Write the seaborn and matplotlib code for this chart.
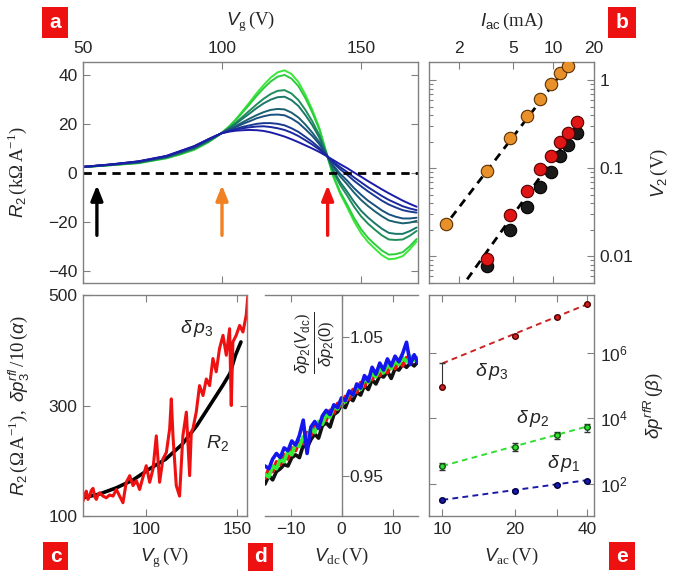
import numpy as np
import pandas as pd
import seaborn as sns
import matplotlib.pyplot as plt
from matplotlib.patches import Rectangle
from matplotlib.ticker import FixedLocator, FixedFormatter, NullLocator, LogLocator, NullFormatter

sns.set_style('white')
plt.rcParams['font.family'] = ['Liberation Sans', 'DejaVu Sans']
plt.rcParams['mathtext.fontset'] = 'custom'
plt.rcParams['mathtext.rm'] = 'Liberation Serif'
plt.rcParams['mathtext.it'] = 'Liberation Sans:italic'
plt.rcParams['mathtext.sf'] = 'Liberation Sans'
plt.rcParams['mathtext.bf'] = 'Liberation Sans:bold'

# ---- panel a: R2 vs Vg for increasing drive (1 = blue ... 9 = green)
vg = [50, 60, 70, 80, 85, 90, 95, 97.5, 100, 102.5, 105, 107.5, 110, 112.5, 115, 117.5, 120, 122.5, 125,
      127.5, 130, 132.5, 135, 137.5, 140, 142.5, 145, 147.5, 150, 152.5, 155, 157.5, 160, 162.5, 165, 167.5, 170]
r2_1 = [2.5, 3.5, 4.8, 7.0, 9.0, 11.0, 13.8, 15.1, 16.3, 16.9, 17.3, 17.5, 17.6, 17.5, 17.2, 16.6, 15.8, 14.9, 13.8,
        12.6, 11.3, 10.0, 8.6, 7.0, 5.3, 3.6, 2.0, 0.2, -1.5, -3.3, -5.0, -6.7, -8.3, -9.8, -11.3, -12.6, -13.8]
r2_2 = [2.5, 3.5, 4.7, 6.9, 8.9, 10.9, 13.7, 15.0, 16.3, 17.1, 17.8, 18.3, 18.7, 19.0, 19.1, 18.8, 18.3, 17.6, 16.5,
        15.1, 13.4, 11.6, 9.6, 7.2, 4.6, 2.4, 0.4, -1.8, -3.8, -5.8, -7.6, -9.4, -11.0, -12.3, -13.6, -14.5, -15.2]
r2_3 = [2.5, 3.4, 4.7, 6.8, 8.8, 10.7, 13.6, 15.0, 16.3, 17.3, 18.1, 18.9, 19.5, 20.1, 20.4, 20.4, 20.1, 19.5, 18.3,
        16.8, 14.8, 12.7, 10.3, 7.3, 4.1, 1.5, -0.7, -3.2, -5.4, -7.5, -9.4, -11.3, -12.9, -14.1, -15.2, -15.8, -16.2]
r2_4 = [2.5, 3.4, 4.5, 6.7, 8.6, 10.5, 13.4, 14.9, 16.4, 17.6, 18.8, 20.1, 21.2, 22.4, 23.2, 23.8, 23.9, 23.6, 22.3,
        20.5, 17.9, 15.1, 11.8, 7.5, 3.1, -0.3, -3.1, -6.2, -8.9, -11.3, -13.3, -15.3, -16.9, -17.9, -18.6, -18.6, -18.3]
r2_5 = [2.5, 3.4, 4.5, 6.6, 8.4, 10.4, 13.3, 14.8, 16.4, 17.8, 19.2, 20.8, 22.3, 23.7, 24.9, 25.8, 26.2, 26.0, 24.7,
        22.7, 19.8, 16.5, 12.7, 7.6, 2.5, -1.4, -4.6, -8.0, -11.0, -13.5, -15.7, -17.7, -19.4, -20.1, -20.6, -20.3, -19.6]
r2_6 = [2.4, 3.3, 4.3, 6.4, 8.2, 10.1, 13.0, 14.7, 16.4, 18.2, 20.1, 22.3, 24.4, 26.6, 28.5, 30.0, 31.0, 31.2, 29.8,
        27.4, 23.7, 19.5, 14.5, 7.9, 1.2, -3.7, -7.6, -11.8, -15.4, -18.2, -20.6, -22.8, -24.5, -24.9, -24.9, -23.8, -22.3]
r2_7 = [2.4, 3.3, 4.2, 6.3, 8.0, 10.0, 12.9, 14.6, 16.4, 18.4, 20.6, 23.1, 25.6, 28.1, 30.4, 32.3, 33.6, 33.9, 32.5,
        29.8, 25.8, 21.1, 15.5, 8.1, 0.5, -4.9, -9.2, -13.8, -17.7, -20.7, -23.2, -25.5, -27.2, -27.4, -27.2, -25.7, -23.7]
r2_8 = [2.4, 3.2, 4.1, 6.1, 7.7, 9.6, 12.6, 14.5, 16.5, 18.9, 21.7, 24.9, 28.2, 31.6, 34.7, 37.4, 39.4, 40.1, 38.6,
        35.5, 30.6, 24.7, 17.8, 8.4, -1.0, -7.7, -12.9, -18.4, -23.0, -26.5, -29.2, -31.7, -33.4, -33.2, -32.4, -30.0, -27.0]
r2_9 = [2.4, 3.2, 4.0, 6.0, 7.6, 9.5, 12.5, 14.4, 16.5, 19.0, 22.0, 25.5, 29.0, 32.7, 36.0, 39.0, 41.2, 42.0, 40.5,
        37.2, 32.0, 25.8, 18.5, 8.5, -1.5, -8.5, -14.0, -19.8, -24.6, -28.2, -31.0, -33.6, -35.3, -35.0, -34.0, -31.3, -28.0]
curve_colors = ['#1c1ca8', '#1a2a9e', '#1a3a92', '#1a5080', '#1a6070',
                '#1a7868', '#1e8e5a', '#2ccc3c', '#3ae83a']
arrow_vg = [55, 100, 138]
arrow_colors = ['black', '#f08020', '#ee1111']

# ---- panel b: V2 vs Iac
iac_orange = [1.6, 3.2, 4.8, 6.4, 8.0, 9.6, 11.2, 12.8]
v2_orange = [0.0236, 0.094, 0.221, 0.392, 0.615, 0.89, 1.19, 1.45]
iac_rb = [3.2, 4.8, 6.4, 8.0, 9.6, 11.2, 12.8, 15.0]
v2_red = [0.00925, 0.0298, 0.0557, 0.098, 0.138, 0.196, 0.254, 0.338]
v2_black = [0.00777, 0.0202, 0.0365, 0.0613, 0.0913, 0.138, 0.183, 0.254]
fit_i_top = [1.75, 20.0]
fit_v_top = [0.0275, 3.6]
fit_i_bot = [2.3, 15.5]
fit_v_bot = [0.0055, 0.33]

# ---- panel c: R2 and dp3 vs Vg
vg_r2 = [66, 75, 84, 93, 102, 111, 120, 128, 135, 142, 146, 149, 152]
r2_c = [133, 140, 151, 165, 185, 203, 230, 264, 300, 336, 358, 391, 415]
vg_dp3 = [65.8, 66.7, 67.6, 68.5, 69.4, 70.3, 71.3, 72.2, 73.1, 74.0, 74.9, 76.7, 78.5, 80.3, 82.2, 84.0, 85.8,
          87.6, 89.4, 91.3, 93.1, 94.9, 96.7, 98.5, 100.3, 102.2, 104.0, 105.8,
          107.6, 109.4, 111.3, 113.1, 114.0, 114.9, 116.7, 118.5, 120.3, 122.2,
          124.0, 124.9, 125.8, 127.6, 129.4, 131.3, 133.1, 134.9, 136.7, 138.5,
          140.3, 142.2, 144.0, 145.8, 146.7, 147.6, 149.4, 151.3, 153.1, 154.9, 155.8]
dp3_c = [127, 138, 145, 130, 136, 146, 150, 135, 130, 139, 142, 136, 133, 138, 136, 148, 136,
         124, 161, 173, 155, 164, 148, 170, 191, 161, 185, 245,
         161, 203, 215, 258, 312, 245, 155, 136, 245, 288,
         173, 252, 258, 288, 336, 318, 348, 336, 385, 361,
         403, 427, 391, 439, 300, 415, 427, 445, 433, 464, 500]

# ---- panel d: normalised dp2 vs Vdc
vdc = list(np.linspace(-15, 15, 41))
dp2_black = [0.944, 0.950, 0.947, 0.953, 0.955, 0.958, 0.957, 0.963, 0.965, 0.963, 0.972, 0.970, 0.976, 0.980,
             0.977, 0.986, 0.988, 0.985, 0.994, 0.996, 1.001, 0.999, 1.006, 1.004, 1.010, 1.008, 1.015, 1.012,
             1.019, 1.016, 1.022, 1.021, 1.025, 1.020, 1.027, 1.026, 1.030, 1.028, 1.031, 1.029, 1.032]
dp2_red = [0.948, 0.955, 0.953, 0.960, 0.958, 0.965, 0.962, 0.970, 0.968, 0.975, 0.973, 0.981, 0.979, 0.986,
           0.984, 0.991, 0.990, 0.997, 0.995, 1.002, 1.000, 1.007, 1.005, 1.012, 1.010, 1.017, 1.014, 1.021,
           1.019, 1.025, 1.022, 1.028, 1.024, 1.030, 1.027, 1.033, 1.029, 1.035, 1.031, 1.036, 1.033]
dp2_green = [0.951, 0.949, 0.957, 0.955, 0.962, 0.960, 0.968, 0.965, 0.973, 0.971, 0.978, 0.976, 0.984, 0.981,
             0.989, 0.987, 0.994, 0.992, 1.000, 0.998, 1.005, 1.003, 1.010, 1.008, 1.015, 1.012, 1.020, 1.017,
             1.024, 1.021, 1.027, 1.024, 1.030, 1.027, 1.032, 1.030, 1.035, 1.032, 1.036, 1.033, 1.035]
dp2_blue = [0.957, 0.955, 0.962, 0.966, 0.963, 0.970, 0.968, 0.975, 0.972, 0.979, 0.990, 0.966, 0.985, 0.989,
            0.984, 0.993, 0.997, 0.994, 1.001, 0.999, 1.006, 1.004, 1.011, 1.008, 1.016, 1.013, 1.022, 1.018,
            1.028, 1.023, 1.031, 1.026, 1.034, 1.029, 1.036, 1.032, 1.038, 1.046, 1.030, 1.037, 1.031]

# ---- panel e: dp^rfR vs Vac
vac = [10, 20, 30, 40]
dp3_e = [9.2e4, 3.2e6, 1.25e7, 3.0e7]
dp3_err_lo = [0, 3e5, 1e6, 2e6]
dp3_err_hi = [3.78e5, 3e5, 1e6, 2e6]
dp2_e = [352, 1360, 3100, 5300]
dp2_err = [80, 350, 780, 1400]
dp1_e = [32.5, 62.5, 93, 123]
dp1_err = [2, 4, 6, 8]
fit_vac = [10, 40]
fit_dp3 = [4.7e5, 3.0e7]
fit_dp2 = [352, 5630]
fit_dp1 = [32.5, 130]

# ---------------------------------------------------------------- layout
W, H = 675, 580
fig = plt.figure(figsize=(W / 100, H / 100), dpi=100)


def rect(l, t, r, b):
    return [l / W, 1 - b / H, (r - l) / W, (b - t) / H]


ax_a = fig.add_axes(rect(83, 62, 418, 283))
ax_b = fig.add_axes(rect(429, 62, 594, 283))
ax_c = fig.add_axes(rect(83, 295, 247, 516))
ax_d = fig.add_axes(rect(265, 295, 418, 516))
ax_e = fig.add_axes(rect(429, 295, 594, 516))

GREY = '#808080'
for ax in (ax_a, ax_b, ax_c, ax_d, ax_e):
    for s in ax.spines.values():
        s.set_color(GREY)
        s.set_linewidth(1.0)
    ax.tick_params(which='both', direction='in', color=GREY, width=0.8, labelsize=12.5,
                   top=True, bottom=True, left=True, right=True, pad=4)
    ax.tick_params(which='major', length=5)
    ax.tick_params(which='minor', length=3)

LBL = 13.5

# ---- a
curves = [r2_1, r2_2, r2_3, r2_4, r2_5, r2_6, r2_7, r2_8, r2_9]
df_a = pd.DataFrame({'Vg': vg * len(curves),
                     'R2': sum(curves, []),
                     'drive': np.repeat(np.arange(1, len(curves) + 1), len(vg))})
pal_a = {i + 1: c for i, c in enumerate(curve_colors)}
sns.lineplot(data=df_a, x='Vg', y='R2', hue='drive', palette=pal_a,
             hue_order=list(range(len(curves), 0, -1)), lw=1.4, legend=False, ax=ax_a)
ax_a.axhline(0, color='black', lw=2, ls=(0, (3, 2.2)))
for x, c in zip(arrow_vg, arrow_colors):
    ax_a.annotate('', xy=(x, -5), xytext=(x, -25.5),
                  arrowprops=dict(arrowstyle='-|>,head_length=0.45,head_width=0.18',
                                  color=c, lw=2.4, mutation_scale=20, shrinkA=0, shrinkB=0))
ax_a.set_xlim(50, 170.5)
ax_a.set_ylim(-45, 45.4)
ax_a.xaxis.set_major_locator(FixedLocator([50, 100, 150]))
ax_a.yaxis.set_major_locator(FixedLocator([-40, -20, 0, 20, 40]))
ax_a.tick_params(labeltop=True, labelbottom=False)
ax_a.xaxis.set_label_position('top')
ax_a.set_xlabel(r'$V_\mathrm{g}\,(\mathrm{V})$', fontsize=LBL, labelpad=11)
ax_a.set_ylabel(r'$R_{\mathsf{2}}\,(\mathrm{k}\Omega\,\mathrm{A}^{-1})$', fontsize=LBL, labelpad=14)

# ---- b
ax_b.set_xscale('log')
ax_b.set_yscale('log')
sns.lineplot(x=fit_i_top, y=fit_v_top, color='black', lw=2, ax=ax_b)
sns.lineplot(x=fit_i_bot, y=fit_v_bot, color='black', lw=2, ax=ax_b)
for ln in ax_b.lines:
    ln.set_linestyle((0, (3, 2.2)))
sns.scatterplot(x=iac_orange, y=v2_orange, color='#e8902a', edgecolor='#5a3000', s=80, lw=0.8, ax=ax_b, zorder=3)
sns.scatterplot(x=iac_rb, y=v2_black, color='#1a1a1a', edgecolor='#000000', s=80, lw=0.8, ax=ax_b, zorder=3)
sns.scatterplot(x=iac_rb, y=v2_red, color='#e01515', edgecolor='#500000', s=80, lw=0.8, ax=ax_b, zorder=4)
ax_b.set_xlim(1.2, 20)
ax_b.set_ylim(0.005, 1.6)
ax_b.xaxis.set_major_locator(FixedLocator([2, 5, 10, 20]))
ax_b.xaxis.set_major_formatter(FixedFormatter(['2', '5', '10', '20']))
ax_b.xaxis.set_minor_locator(NullLocator())
ax_b.yaxis.set_major_locator(FixedLocator([0.01, 0.1, 1]))
ax_b.yaxis.set_major_formatter(FixedFormatter(['0.01', '0.1', '1']))
ax_b.yaxis.set_minor_locator(LogLocator(base=10, subs=np.arange(2, 10)))
ax_b.yaxis.set_minor_formatter(NullFormatter())
ax_b.tick_params(labeltop=True, labelbottom=False, labelleft=False, labelright=True)
ax_b.xaxis.set_label_position('top')
ax_b.yaxis.set_label_position('right')
ax_b.set_xlabel(r'$I_\mathsf{ac}\,(\mathrm{mA})$', fontsize=LBL, labelpad=11)
ax_b.set_ylabel(r'$V_{\mathsf{2}}\,(\mathrm{V})$', fontsize=LBL, labelpad=11)

# ---- c
sns.lineplot(x=vg_r2, y=r2_c, color='black', lw=2.6, ax=ax_c)
sns.lineplot(x=vg_dp3, y=dp3_c, color='#ee1111', lw=2.2, ax=ax_c)
ax_c.text(128, 440, r'$\delta\,p_{\mathsf{3}}$', fontsize=14, ha='center', va='center')
ax_c.text(139, 233, r'$R_{\mathsf{2}}$', fontsize=14, ha='center', va='center')
ax_c.set_xlim(65.8, 155.3)
ax_c.set_ylim(100, 500)
ax_c.xaxis.set_major_locator(FixedLocator([100, 150]))
ax_c.yaxis.set_major_locator(FixedLocator([100, 300, 500]))
ax_c.set_xlabel(r'$V_\mathrm{g}\,(\mathrm{V})$', fontsize=LBL, labelpad=7)
ax_c.set_ylabel(r'$R_{\mathsf{2}}\,(\Omega\,\mathrm{A}^{-1}),\ \delta p_{\mathsf{3}}^{rfl}\,/10\,(\alpha)$',
                fontsize=LBL, labelpad=12)

# ---- d
df_d = pd.DataFrame({'Vdc': vdc * 4,
                     'ratio': dp2_black + dp2_red + dp2_green + dp2_blue,
                     'run': np.repeat(['k', 'r', 'g', 'b'], len(vdc))})
pal_d = {'k': '#111111', 'r': '#ee1111', 'g': '#33ee33', 'b': '#1515ee'}
sns.lineplot(data=df_d, x='Vdc', y='ratio', hue='run', palette=pal_d, hue_order=['k', 'r', 'g', 'b'],
             lw=2.6, legend=False, ax=ax_d)
ax_d.set_xlim(-15, 15)
ax_d.set_ylim(0.921, 1.080)
ax_d.spines['left'].set_visible(False)
ax_d.spines['right'].set_position(('data', 0))
ax_d.yaxis.tick_right()
ax_d.tick_params(axis='y', which='both', direction='out', left=False, right=True)
ax_d.xaxis.set_major_locator(FixedLocator([-10, 0, 10]))
ax_d.yaxis.set_major_locator(FixedLocator([0.95, 1.05]))
ax_d.yaxis.set_major_formatter(FixedFormatter(['0.95', '1.05']))
ax_d.tick_params(axis='y', pad=1)
ax_d.set_xlabel(r'$V_\mathrm{dc}\,(\mathrm{V})$', fontsize=LBL, labelpad=7)
ax_d.set_ylabel('')
ax_d.text(0.33, 0.785, r'$\frac{\delta p_{\mathsf{2}}(V_\mathsf{dc})}{\delta p_{\mathsf{2}}(\mathsf{0})}$',
          transform=ax_d.transAxes, rotation=90, fontsize=17, ha='center', va='center')

# ---- e
ax_e.set_xscale('log')
ax_e.set_yscale('log')
sns.lineplot(x=fit_vac, y=fit_dp3, color='#cc2222', lw=1.4, ax=ax_e)
sns.lineplot(x=fit_vac, y=fit_dp2, color='#33dd33', lw=1.4, ax=ax_e)
sns.lineplot(x=fit_vac, y=fit_dp1, color='#1a1aaa', lw=1.4, ax=ax_e)
for ln in ax_e.lines:
    ln.set_linestyle((0, (3, 2.2)))
ax_e.errorbar(vac, dp3_e, yerr=[dp3_err_lo, dp3_err_hi], fmt='o', ms=4, mfc='#cc2222', mec='#550000',
              ecolor='#333333', elinewidth=0.8, capsize=2)
ax_e.errorbar(vac, dp2_e, yerr=dp2_err, fmt='o', ms=4, mfc='#33dd33', mec='#115511',
              ecolor='#333333', elinewidth=0.8, capsize=2)
ax_e.errorbar(vac, dp1_e, yerr=dp1_err, fmt='o', ms=4, mfc='#1a1aaa', mec='#000044',
              ecolor='#333333', elinewidth=0.8, capsize=2)
ax_e.text(16, 2.6e5, r'$\delta\,p_{\mathsf{3}}$', fontsize=14, ha='center', va='center')
ax_e.text(23.8, 1.0e4, r'$\delta\,p_{\mathsf{2}}$', fontsize=14, ha='center', va='center')
ax_e.text(31.8, 430, r'$\delta\,p_{\mathsf{1}}$', fontsize=14, ha='center', va='center')
ax_e.set_xlim(8.8, 42.6)
ax_e.set_ylim(10.5, 5.7e7)
ax_e.xaxis.set_major_locator(FixedLocator([10, 20, 30, 40]))
ax_e.xaxis.set_major_formatter(FixedFormatter(['10', '20', '', '40']))
ax_e.xaxis.set_minor_locator(NullLocator())
ax_e.yaxis.set_major_locator(FixedLocator([1e2, 1e4, 1e6]))
ax_e.yaxis.set_major_formatter(FixedFormatter([r'$\mathsf{10}^{\mathsf{2}}$', r'$\mathsf{10}^{\mathsf{4}}$',
                                               r'$\mathsf{10}^{\mathsf{6}}$']))
ax_e.yaxis.set_minor_locator(NullLocator())
ax_e.tick_params(labelleft=False, labelright=True)
ax_e.yaxis.set_label_position('right')
ax_e.set_xlabel(r'$V_\mathrm{ac}\,(\mathrm{V})$', fontsize=LBL, labelpad=7)
ax_e.set_ylabel(r'$\delta p^{rfR}\,(\beta)$', fontsize=LBL, labelpad=10)

# ---- panel letters
for letter, (l, t, r, b) in zip('abcde', [(42, 7, 68, 38), (608, 7, 636, 38), (43, 542, 68, 570),
                                          (248, 543, 273, 571), (609, 542, 635, 570)]):
    fig.patches.append(Rectangle((l / W, 1 - b / H), (r - l) / W, (b - t) / H,
                                 transform=fig.transFigure, facecolor='#ee1111', edgecolor='none'))
    fig.text((l + r) / 2 / W, 1 - (t + b) / 2 / H, letter, color='white', fontsize=15,
             fontweight='bold', ha='center', va='center')

fig.savefig('out.png', dpi=100)
